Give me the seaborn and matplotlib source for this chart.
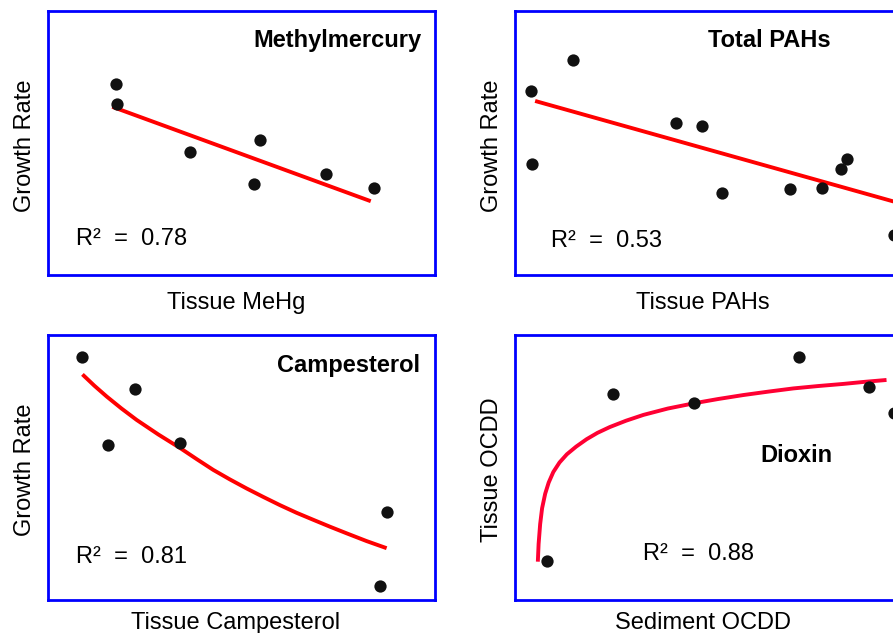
import matplotlib.pyplot as plt
import seaborn as sns

# values (axes run 0-100 on both sides, no tick marks)

# Methylmercury
mehg_x = [17.5, 17.9, 36.6, 54.8, 53.2, 71.8, 84.2]
mehg_y = [72.2, 64.7, 46.4, 51.0, 34.5, 38.1, 32.9]
mehg_fit_x = [16.6, 83.4]
mehg_fit_y = [63.6, 27.9]

# Total PAHs
pah_x = [4.1, 15.0, 4.4, 41.6, 48.2, 53.4, 71.0, 79.3, 84.2, 85.8, 97.9]
pah_y = [69.6, 81.3, 42.0, 57.4, 56.2, 31.1, 32.6, 33.0, 40.0, 44.0, 15.1]
pah_fit_x = [5.2, 100.0]
pah_fit_y = [65.8, 26.9]

# Campesterol
camp_x = [8.7, 22.5, 15.4, 34.2, 87.5, 85.8]
camp_y = [91.8, 79.5, 58.3, 59.2, 33.1, 5.1]
camp_fit_x = [8.9, 12.0, 15.2, 19.0, 22.9, 28.5, 34.2, 38.5, 42.7, 47.0,
              51.3, 55.6, 59.9, 64.2, 68.6, 72.9, 77.2, 82.3, 87.5]
camp_fit_y = [85.1, 80.8, 76.7, 72.2, 67.9, 62.4, 57.2, 53.0, 49.0, 45.4,
              42.0, 38.8, 35.7, 32.8, 30.1, 27.5, 25.0, 22.1, 19.4]

# Dioxin
ocdd_x = [8.3, 25.2, 46.3, 73.5, 91.6, 97.9]
ocdd_y = [14.6, 77.6, 74.3, 91.8, 80.2, 70.6]
ocdd_fit_x = [5.9, 6.1, 6.5, 7.0, 7.8, 8.7, 9.9, 11.5, 13.4, 15.8, 18.5,
              21.3, 24.5, 28.7, 33.2, 39.5, 46.3, 52.5, 59.0, 65.5, 71.9,
              78.3, 84.8, 90.4, 96.0]
ocdd_fit_y = [14.3, 21.0, 28.5, 34.5, 40.0, 44.2, 48.2, 51.8, 54.9, 57.8,
              60.6, 63.0, 65.2, 67.6, 69.8, 72.2, 74.2, 75.8, 77.3, 78.6,
              79.8, 80.7, 81.5, 82.3, 83.0]

sns.set_style('white')
plt.rcParams['font.family'] = ['Liberation Sans', 'DejaVu Sans']
plt.rcParams['text.color'] = 'black'
plt.rcParams['axes.labelcolor'] = 'black'

fig = plt.figure(figsize=(8.93, 6.33), dpi=100)

W, H = 387 / 893, 264.5 / 633
pos = {
    'tl': [48 / 893, (633 - 275) / 633, W, H],
    'tr': [515 / 893, (633 - 275) / 633, W, H],
    'bl': [48 / 893, (633 - 599.5) / 633, W, H],
    'br': [515 / 893, (633 - 599.5) / 633, W, H],
}


def panel(key, x, y, fx, fy, line_color, title, tx, ty, tha, r2, rx, ry,
          xlabel, ylabel, xl_y):
    ax = fig.add_axes(pos[key])
    sns.lineplot(x=fx, y=fy, ax=ax, color=line_color, linewidth=2.8,
                 solid_capstyle='butt', solid_joinstyle='round', zorder=2)
    sns.scatterplot(x=x, y=y, ax=ax, color='#111111', s=78, linewidth=0,
                    zorder=3, clip_on=False)
    ax.set_xlim(0, 100)
    ax.set_ylim(0, 100)
    ax.set_xticks([])
    ax.set_yticks([])
    for sp in ax.spines.values():
        sp.set_visible(True)
        sp.set_color('#0000ff')
        sp.set_linewidth(2.0)
    ax.text(tx, ty, title, transform=ax.transAxes, ha=tha, va='baseline',
            fontsize=17, fontweight='bold', color='black')
    ax.text(rx, ry, 'R\u00b2  =  ' + r2, transform=ax.transAxes, ha='left',
            va='baseline', fontsize=17, color='black')
    ax.set_xlabel(xlabel, fontsize=17, va='baseline', color='black')
    ax.xaxis.set_label_coords(0.485, xl_y)
    ax.set_ylabel(ylabel, fontsize=17, va='baseline', color='black')
    ax.yaxis.set_label_coords(-0.045, 0.49)
    return ax


panel('tl', mehg_x, mehg_y, mehg_fit_x, mehg_fit_y, '#ff0000',
      'Methylmercury', 0.964, 0.863, 'right', '0.78', 0.072, 0.113,
      'Tissue MeHg', 'Growth Rate', -0.1285)
panel('tr', pah_x, pah_y, pah_fit_x, pah_fit_y, '#ff0000',
      'Total PAHs', 0.656, 0.863, 'center', '0.53', 0.093, 0.107,
      'Tissue PAHs', 'Growth Rate', -0.1285)
panel('bl', camp_x, camp_y, camp_fit_x, camp_fit_y, '#ff0000',
      'Campesterol', 0.961, 0.861, 'right', '0.81', 0.072, 0.137,
      'Tissue Campesterol', 'Growth Rate', -0.110)
panel('br', ocdd_x, ocdd_y, ocdd_fit_x, ocdd_fit_y, '#ff0033',
      'Dioxin', 0.728, 0.521, 'center', '0.88', 0.330, 0.149,
      'Sediment OCDD', 'Tissue OCDD', -0.110)

fig.savefig('out.png', dpi=100)
